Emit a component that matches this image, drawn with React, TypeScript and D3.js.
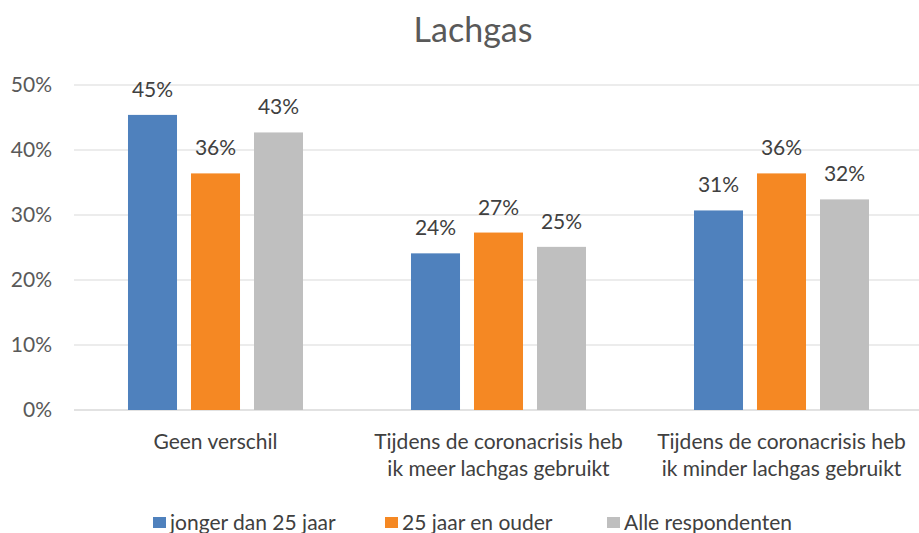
import React from "react";
import * as d3 from "d3";

const categories = [
  ["Geen verschil"],
  ["Tijdens de coronacrisis heb", "ik meer lachgas gebruikt"],
  ["Tijdens de coronacrisis heb", "ik minder lachgas gebruikt"],
];
const seriesNames = ["jonger dan 25 jaar", "25 jaar en ouder", "Alle respondenten"];
const jonger = [0.454, 0.241, 0.307];
const ouder = [0.364, 0.273, 0.364];
const alle = [0.427, 0.251, 0.324];
const yTicks = [0, 0.1, 0.2, 0.3, 0.4, 0.5];
const colors = ["#4f81bd", "#f58823", "#bfbfbf"];

const width = 919;
const height = 533;
const font = "Lato, 'Open Sans', sans-serif";

function App() {
  const values = [jonger, ouder, alle];
  const groups = categories.map((c, i) => "g" + i);

  const x0 = d3.scaleBand().domain(groups).range([74, 923]).padding(0);
  const x1 = d3
    .scaleBand()
    .domain(seriesNames)
    .range([0, x0.bandwidth()])
    .paddingInner(0.222)
    .paddingOuter(0.857);
  const y = d3.scaleLinear().domain([0, 0.5]).range([410, 85]);
  const fmt = d3.format(".0%");

  return (
    <svg
      width={width}
      height={height}
      style={{ position: "absolute", left: 0, top: 0, display: "block" }}
    >
      <rect width={width} height={height} fill="#fff" />
      <text x={473} y={42} textAnchor="middle" fontFamily={font} fontSize={34} fill="#595959">
        Lachgas
      </text>

      {yTicks.map((t) => (
        <g key={t}>
          <line x1={74} x2={width} y1={y(t)} y2={y(t)} stroke="#d9d9d9" strokeWidth={t === 0 ? 1.5 : 1.2} />
          <text x={52} y={y(t) + 7} textAnchor="end" fontFamily={font} fontSize={21} fill="#595959">
            {fmt(t)}
          </text>
        </g>
      ))}

      {groups.map((g, gi) => (
        <g key={g} transform={`translate(${x0(g)},0)`}>
          {seriesNames.map((s, si) => {
            const v = values[si][gi];
            const bx = x1(s) as number;
            return (
              <g key={s}>
                <rect x={bx} y={y(v)} width={x1.bandwidth()} height={y(0) - y(v)} fill={colors[si]} />
                <text
                  x={bx + x1.bandwidth() / 2}
                  y={y(v) - 18}
                  textAnchor="middle"
                  fontFamily={font}
                  fontSize={21}
                  fill="#404040"
                >
                  {fmt(v)}
                </text>
              </g>
            );
          })}
          {categories[gi].map((line, li) => (
            <text
              key={li}
              x={x0.bandwidth() / 2}
              y={449 + li * 26.5}
              textAnchor="middle"
              fontFamily={font}
              fontSize={21}
              fill="#404040"
            >
              {line}
            </text>
          ))}
        </g>
      ))}

      {seriesNames.map((s, si) => {
        const lx = [153, 385, 607][si];
        return (
          <g key={s}>
            <rect x={lx} y={517} width={13} height={11} fill={colors[si]} />
            <text x={lx + 17} y={530} fontFamily={font} fontSize={21} fill="#404040">
              {s}
            </text>
          </g>
        );
      })}
    </svg>
  );
}

export default App;
